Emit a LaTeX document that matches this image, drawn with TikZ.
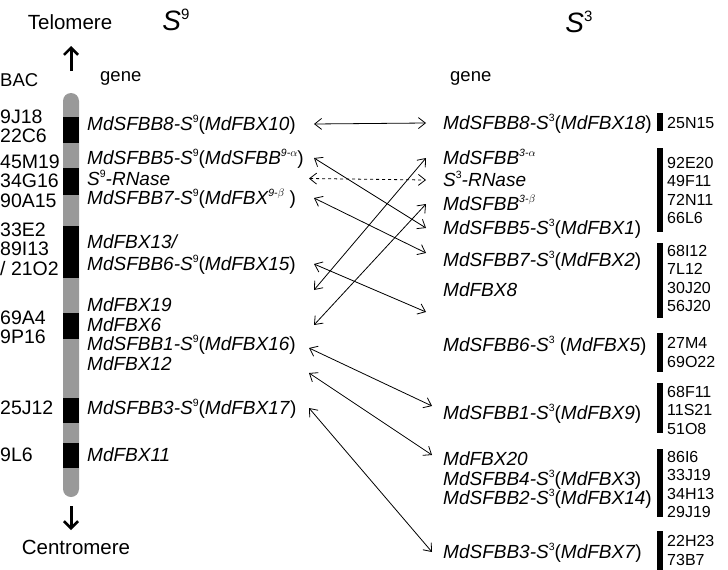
\documentclass[tikz,border=0pt]{standalone}
\usepackage{fontspec}
\setmainfont{Liberation Sans}
\usetikzlibrary{arrows.meta,calc}
\newcommand{\spx}[1]{\raisebox{0.4em}{\fontsize{10.5}{11}\selectfont\upshape #1}}
\tikzset{
  gene/.style={anchor=west, inner sep=0pt, text height=13pt, text depth=0pt,
    font=\fontsize{19}{20}\selectfont\itshape},
  bacl/.style={anchor=west, inner sep=0pt, align=left, font=\fontsize{19.5}{19.5}\selectfont},
  bacr/.style={anchor=west, inner sep=0pt, align=left, font=\fontsize{16}{18.5}\selectfont},
  head/.style={inner sep=0pt, font=\fontsize{18.5}{20}\selectfont},
  ttl/.style={inner sep=0pt, font=\fontsize{28}{30}\selectfont},
  link/.style={<->, line width=0.8pt},
  band/.style={fill=black},
  boldarrow/.style={line width=3pt, -{Straight Barb[length=7pt,width=14pt,line width=2.6pt]}},
}
\begin{document}
\begin{tikzpicture}[x=1pt,y=-1pt,>={Straight Barb[length=7pt,width=11pt]}]
  \useasboundingbox (0,0) rectangle (728,570);

  % chromosome S9
  \fill[black!40, rounded corners=8pt] (63,93) rectangle (79,497);
  \fill[band] (63,117) rectangle (79,143);
  \fill[band] (63,168) rectangle (79,195);
  \fill[band] (63,226) rectangle (79,278);
  \fill[band] (63,313) rectangle (79,339);
  \fill[band] (63,398) rectangle (79,423);
  \fill[band] (63,443) rectangle (79,468);

  % BAC bars S3
  \fill (657,113) rectangle (663,131);
  \fill (657,148) rectangle (663,232);
  \fill (657,243) rectangle (663,318);
  \fill (657,333) rectangle (663,372);
  \fill (657,383) rectangle (663,433);
  \fill (657,449) rectangle (663,517);
  \fill (657,531) rectangle (663,570);

  \node[head, font=\fontsize{20.5}{22}\selectfont] (tel) at (70,22) {Telomere};
  \node[head, font=\fontsize{20.5}{22}\selectfont] (cen) at (76,547) {Centromere};
  \node[ttl] (S9) at (176,20) {\textit{S}\raisebox{0.42em}{\fontsize{15}{15}\selectfont 9}};
  \node[ttl] (S3) at (579,22) {\textit{S}\raisebox{0.42em}{\fontsize{15}{15}\selectfont 3}};
  \node[head, anchor=west] (bac) at (0,80) {BAC};
  \node[head, anchor=west] (g9) at (100,78) {gene};
  \node[head, anchor=west] (g3) at (450,78) {gene};

  \coordinate (up0) at (71,71);
  \coordinate (up1) at (71,46);
  \coordinate (dn0) at (71,506);
  \coordinate (dn1) at (71,530);
  \draw[boldarrow] (up0) -- (up1);
  \draw[boldarrow] (dn0) -- (dn1);

  \node[bacl] (b1) at (0,126.5) {9J18\\22C6};
  \node[bacl] (b2) at (0,181) {45M19\\34G16\\90A15};
  \node[bacl] (b3) at (0,249) {33E2\\89I13\\/ 21O2};
  \node[bacl] (b4) at (0,327.5) {69A4\\9P16};
  \node[bacl] (b5) at (0,408) {25J12};
  \node[bacl] (b6) at (0,455) {9L6};

  \node[bacr] (c1) at (667,123) {25N15};
  \node[bacr] (c2) at (667,190.5) {92E20\\49F11\\72N11\\66L6};
  \node[bacr] (c3) at (667,278.5) {68I12\\7L12\\30J20\\56J20};
  \node[bacr] (c4) at (667,352.5) {27M4\\69O22};
  \node[bacr] (c5) at (667,410) {68F11\\11S21\\51O8};
  \node[bacr] (c6) at (667,484.5) {86I6\\33J19\\34H13\\29J19};
  \node[bacr] (c7) at (667,550.5) {22H23\\73B7};

  % S9 genes
  \node[gene] (L1) at (87,124) {MdSFBB8-S\spx{9}\textup{(}MdFBX10\textup{)}};
  \node[gene] (L2) at (87,158) {MdSFBB5-S\spx{9}\textup{(}MdSFBB\spx{\itshape 9-$\alpha$}\textup{)}};
  \node[gene] (L3) at (87,178.5) {S\spx{9}-RNase};
  \node[gene] (L4) at (87,198) {MdSFBB7-S\spx{9}\textup{(}MdFBX\spx{\itshape 9-$\beta$} \textup{)}};
  \node[gene] (L5) at (87,242) {MdFBX13/};
  \node[gene] (L6) at (87,264) {MdSFBB6-S\spx{9}\textup{(}MdFBX15\textup{)}};
  \node[gene] (L7) at (87,305) {MdFBX19};
  \node[gene] (L8) at (87,325) {MdFBX6};
  \node[gene] (L9) at (87,344) {MdSFBB1-S\spx{9}\textup{(}MdFBX16\textup{)}};
  \node[gene] (L10) at (87,364) {MdFBX12};
  \node[gene] (L11) at (87,408) {MdSFBB3-S\spx{9}\textup{(}MdFBX17\textup{)}};
  \node[gene] (L12) at (87,455) {MdFBX11};

  % S3 genes
  \node[gene] (R1) at (443,123) {MdSFBB8-S\spx{3}\textup{(}MdFBX18\textup{)}};
  \node[gene] (R2) at (443,158) {MdSFBB\spx{\itshape 3-$\alpha$}};
  \node[gene] (R3) at (443,180) {S\spx{3}-RNase};
  \node[gene] (R4) at (443,204) {MdSFBB\spx{\itshape 3-$\beta$}};
  \node[gene] (R5) at (443,228) {MdSFBB5-S\spx{3}\textup{(}MdFBX1\textup{)}};
  \node[gene] (R6) at (443,260) {MdSFBB7-S\spx{3}\textup{(}MdFBX2\textup{)}};
  \node[gene] (R7) at (443,290) {MdFBX8};
  \node[gene] (R8) at (443,345) {MdSFBB6-S\spx{3} \textup{(}MdFBX5\textup{)}};
  \node[gene] (R9) at (443,413) {MdSFBB1-S\spx{3}\textup{(}MdFBX9\textup{)}};
  \node[gene] (R10) at (443,459) {MdFBX20};
  \node[gene] (R11) at (443,478.5) {MdSFBB4-S\spx{3}\textup{(}MdFBX3\textup{)}};
  \node[gene] (R12) at (443,498) {MdSFBB2-S\spx{3}\textup{(}MdFBX14\textup{)}};
  \node[gene] (R13) at (443,552) {MdSFBB3-S\spx{3}\textup{(}MdFBX7\textup{)}};

  \coordinate (la) at (314,0);
  \coordinate (ra) at (426,0);
  \coordinate (lb) at (309,0);
  \coordinate (rb) at (432,0);

  \draw[link] (L1 -| la) -- (R1 -| ra);
  \draw[link, dashed] (L3 -| lb) -- (R3 -| ra);
  \draw[link] (L2 -| la) -- (R5 -| ra);
  \draw[link] (L4 -| la) -- ($(R6 -| ra)+(0,-7)$);
  \draw[link] ($(L7 -| la)+(0,-15)$) -- (R2 -| ra);
  \draw[link] (L8 -| la) -- (R4 -| ra);
  \draw[link] (L6 -| la) -- ($(R7 -| ra)+(0,22)$);
  \draw[link] ($(L9 -| lb)+(0,4)$) -- ($(R9 -| rb)+(0,-7)$);
  \draw[link] ($(L10 -| lb)+(0,9)$) -- ($(R10 -| rb)+(0,-4)$);
  \draw[link] (L11 -| lb) -- (R13 -| rb);
\end{tikzpicture}
\end{document}
